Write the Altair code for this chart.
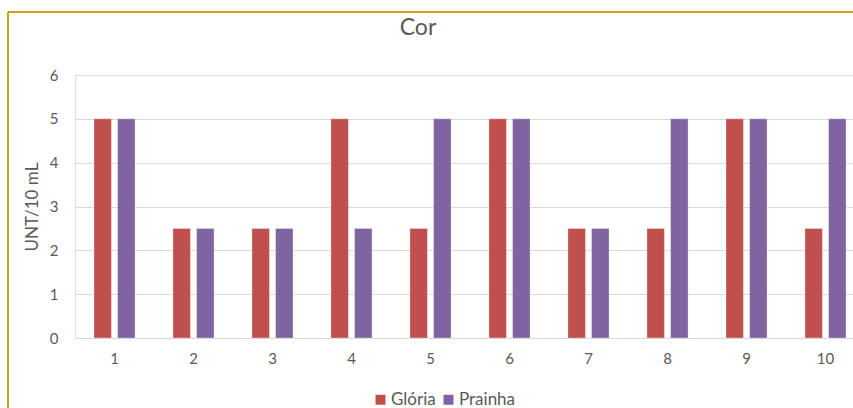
import altair as alt
import pandas as pd

# Amostras e valores de cor (UNT/10 mL) por ponto de coleta
amostras = ["1", "2", "3", "4", "5", "6", "7", "8", "9", "10"]
gloria = [5, 2.5, 2.5, 5, 2.5, 5, 2.5, 2.5, 5, 2.5]
prainha = [5, 2.5, 2.5, 2.5, 5, 5, 2.5, 5, 5, 5]
locais = ["Glória", "Prainha"]
cores = ["#C0504D", "#8064A2"]
y_ticks = [0, 1, 2, 3, 4, 5, 6]
titulo = "Cor"

rows = []
for i, a in enumerate(amostras):
    rows.append({"Amostra": a, "Local": locais[0], "Valor": gloria[i]})
    rows.append({"Amostra": a, "Local": locais[1], "Valor": prainha[i]})
df = pd.DataFrame(rows)

FONT = "Lato"
TEXT = "#595959"
GRID = "#D9D9D9"
FRAME = "#C9A11B"

bars = alt.Chart(df).mark_bar(stroke="white", strokeWidth=0.5, strokeOpacity=0.6).encode(
    x=alt.X(
        "Amostra:N",
        sort=amostras,
        scale=alt.Scale(range=[0, 790], paddingInner=0.48, paddingOuter=0.24),
        axis=alt.Axis(
            title=None, labelAngle=0, domain=False, ticks=False, grid=False,
            labelFontSize=15, labelColor=TEXT, labelPadding=13, labelFont=FONT,
        ),
    ),
    xOffset=alt.XOffset("Local:N", sort=locais, scale=alt.Scale(paddingInner=0.26)),
    y=alt.Y(
        "Valor:Q",
        scale=alt.Scale(domain=[0, 6], nice=False),
        axis=alt.Axis(
            title="UNT/10 mL", values=y_ticks, domain=False, ticks=False,
            gridColor=GRID, gridWidth=1.2,
            labelFontSize=15, labelColor=TEXT, labelPadding=17, labelFont=FONT,
            titleFontSize=17, titleColor=TEXT, titleFont=FONT, titleFontWeight="normal",
            titlePadding=8,
        ),
    ),
    color=alt.Color(
        "Local:N",
        sort=locais,
        scale=alt.Scale(domain=locais, range=cores),
        legend=alt.Legend(
            title=None, orient="none", direction="horizontal",
            legendX=297, legendY=316, symbolType="square", symbolSize=100,
            symbolStrokeWidth=0, labelFontSize=17, labelColor=TEXT, labelFont=FONT,
            columnPadding=4, labelOffset=2,
        ),
    ),
)

# Título do gráfico, posicionado em pixels relativos à área de plotagem
title_mark = alt.Chart(alt.Data(values=[{"t": titulo}])).mark_text(
    font=FONT, fontSize=23, color=TEXT, align="center", baseline="middle"
).encode(text="t:N", x=alt.value(343), y=alt.value(-47))

# Moldura da área do gráfico (esquerda e topo)
frame_data = alt.Data(values=[{}])
frame_left = alt.Chart(frame_data).mark_rule(color=FRAME, strokeWidth=2).encode(
    x=alt.value(-67), y=alt.value(-63), y2=alt.value(340)
)
frame_top = alt.Chart(frame_data).mark_rule(color=FRAME, strokeWidth=2).encode(
    x=alt.value(-67), x2=alt.value(790), y=alt.value(-63)
)

chart = (
    alt.layer(bars, title_mark, frame_left, frame_top)
    .properties(
        width=778,
        height=263,
        autosize=alt.AutoSizeParams(type="none"),
        padding={"left": 75, "top": 75, "right": 0, "bottom": 70},
    )
    .configure_view(stroke=None)
    .configure(background="white")
)

chart.save("out.html", embed_options={"renderer": "svg", "actions": False})
